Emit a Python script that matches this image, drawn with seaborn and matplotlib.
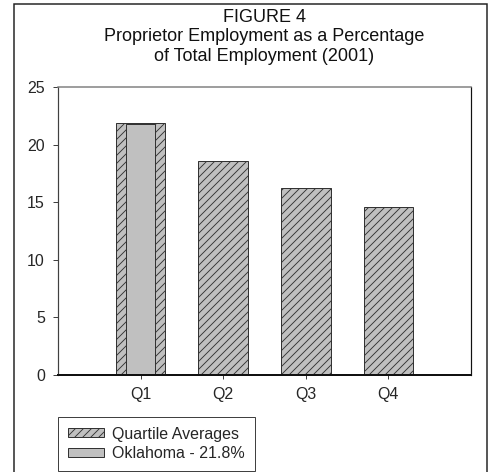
import matplotlib
matplotlib.use("Agg")
import matplotlib.pyplot as plt
from matplotlib.patches import Rectangle, Patch
import seaborn as sns
import pandas as pd

# Data
quartiles = ["Q1", "Q2", "Q3", "Q4"]
quartile_avg = [21.9, 18.6, 16.2, 14.6]
state_name = "Oklahoma"
state_quartile = ["Q1"]
state_value = [21.8]
y_ticks = [0, 5, 10, 15, 20, 25]

sns.set_theme(style="white")
plt.rcParams["font.family"] = ["Liberation Sans", "DejaVu Sans"]
plt.rcParams["hatch.color"] = "#222222"
plt.rcParams["hatch.linewidth"] = 0.9

DPI = 72
fig = plt.figure(figsize=(490 / DPI, 472 / DPI), dpi=DPI)
ax = fig.add_axes([58 / 490, 1 - 375 / 472, (471 - 58) / 490, (375 - 87) / 472])

fill = "#c0c0c0"
edge = "#333333"
hatch = "///"

df_q = pd.DataFrame({"quartile": quartiles, "value": quartile_avg})
df_s = pd.DataFrame({"quartile": state_quartile, "value": state_value})

sns.barplot(data=df_q, x="quartile", y="value", order=quartiles, color=fill,
            saturation=1, width=0.6, edgecolor=edge, linewidth=1, ax=ax)
for p in ax.patches:
    p.set_hatch(hatch)
sns.barplot(data=df_s, x="quartile", y="value", order=quartiles, color=fill,
            saturation=1, width=0.35, edgecolor=edge, linewidth=1, ax=ax)

ax.set_xlim(-1, 4)
ax.set_ylim(0, 25)
ax.set_yticks(y_ticks)
ax.set_xlabel("")
ax.set_ylabel("")
ax.tick_params(axis="y", direction="out", length=5, width=1, color="#404040",
               labelsize=16, pad=8, left=True)
ax.tick_params(axis="x", direction="out", length=4, width=1, color="#404040",
               labelsize=16, pad=8, bottom=True)

for side in ax.spines.values():
    side.set_visible(True)
ax.spines["left"].set_color("#404040")
ax.spines["left"].set_linewidth(1.2)
ax.spines["top"].set_color("#808080")
ax.spines["top"].set_linewidth(1.5)
ax.spines["right"].set_color("#111111")
ax.spines["right"].set_linewidth(1.2)
ax.spines["bottom"].set_color("#111111")
ax.spines["bottom"].set_linewidth(2)

# Title block centred over the plot area
fig.text(264.5 / 490, 1 - 8.5 / 472,
         "FIGURE 4\nProprietor Employment as a Percentage\nof Total Employment (2001)",
         ha="center", va="top", multialignment="center", fontsize=18,
         linespacing=1.2, color="#111111")

# Outer frame around the figure
fig.patches.append(Rectangle((14 / 490, -0.05), (487 - 14) / 490, 1.05 - 4 / 472,
                             transform=fig.transFigure, fill=False,
                             edgecolor="#222222", linewidth=1.5))

handles = [Patch(facecolor=fill, edgecolor=edge, hatch=hatch, linewidth=1),
           Patch(facecolor=fill, edgecolor=edge, linewidth=1)]
labels = ["Quartile Averages", f"{state_name} - {state_value[0]}%"]
leg = fig.legend(handles, labels, loc="upper left",
                 bbox_to_anchor=(58 / 490, 1 - 417 / 472), bbox_transform=fig.transFigure,
                 fontsize=16, frameon=True, fancybox=False, borderaxespad=0,
                 handlelength=2.25, handleheight=0.5, handletextpad=0.55,
                 labelspacing=0.3, borderpad=0.6)
leg.get_frame().set_edgecolor("#111111")
leg.get_frame().set_linewidth(1)

fig.savefig("out.png", dpi=DPI)
